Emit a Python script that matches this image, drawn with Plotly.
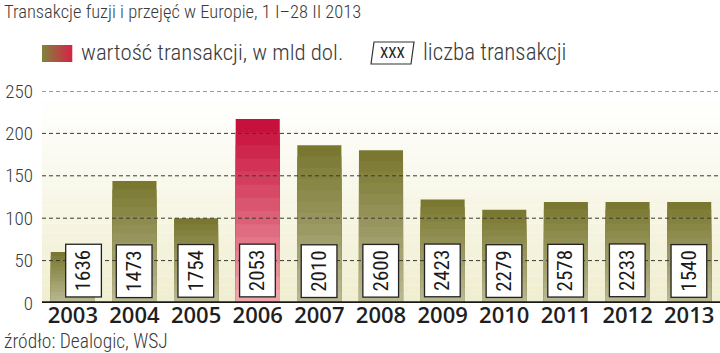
import plotly.graph_objects as go

years = ["2003", "2004", "2005", "2006", "2007", "2008", "2009", "2010", "2011", "2012", "2013"]
values = [60, 144, 100, 217, 186, 180, 122, 110, 119, 119, 119]
counts = ["1636", "1473", "1754", "2053", "2010", "2600", "2423", "2279", "2578", "2233", "1540"]
highlight = "2006"
yticks = [0, 50, 100, 150, 200, 250]

W, H = 720, 353
ML, MR, MT, MB = 42, 0, 91, 50
PW, PH = W - ML - MR, H - MT - MB

def px(x):
    return (x - ML) / PW

def py(y):
    return (H - MB - y) / PH

def lerp(c1, c2, t):
    return "rgb(%d,%d,%d)" % tuple(round(a + (b - a) * t) for a, b in zip(c1, c2))

OLIVE_TOP, OLIVE_BOT = (122, 120, 48), (185, 183, 145)
RED_TOP, RED_BOT = (200, 16, 60), (238, 165, 170)

fig = go.Figure()
N = 14
xs = list(range(len(years)))
for k in range(N):
    t = k / (N - 1)
    frac = 1 - k / N
    cols = [lerp(RED_TOP, RED_BOT, t) if yr == highlight else lerp(OLIVE_TOP, OLIVE_BOT, t) for yr in years]
    fig.add_trace(go.Bar(x=xs, y=[v * frac for v in values], marker=dict(color=cols, line=dict(width=0)),
                         width=0.715, hoverinfo="skip", showlegend=False))

shapes = []
BG_TOP, BG_BOT = (255, 255, 255), (240, 238, 208)
NB = 24
for i in range(NB):
    shapes.append(dict(type="rect", xref="paper", yref="paper", x0=0, x1=1, y0=i / NB, y1=(i + 1) / NB,
                       fillcolor=lerp(BG_BOT, BG_TOP, i / (NB - 1)), line=dict(width=0), layer="below"))
for v in yticks[1:]:
    shapes.append(dict(type="line", xref="paper", yref="y", x0=0, x1=1, y0=v, y1=v,
                       line=dict(color="#3a3a30", width=1, dash="4px,3px"), layer="above"))
shapes.append(dict(type="line", xref="paper", yref="y", x0=0, x1=1, y0=0, y1=0,
                   line=dict(color="#1a1a1a", width=3.5), layer="above"))
NS = 10
for i in range(NS):
    x0 = 42 + 30 * i / NS
    x1 = 42 + 30 * (i + 1) / NS
    shapes.append(dict(type="rect", xref="paper", yref="paper", x0=px(x0), x1=px(x1 + 0.3), y0=py(62), y1=py(45),
                       fillcolor=lerp((130, 128, 60), (210, 40, 70), i / (NS - 1)), line=dict(width=0)))
shapes.append(dict(type="path", xref="paper", yref="paper",
                   path="M %f,%f L %f,%f L %f,%f L %f,%f Z" % (px(371), py(64), px(374), py(42), px(414), py(42), px(411), py(64)),
                   fillcolor="white", line=dict(color="#333", width=1.2)))

annotations = []
FONT = "Roboto Condensed, DejaVu Sans Condensed, sans-serif"
TXT = "#3a3a3a"
annotations.append(dict(text="Transakcje fuzji i przejęć w Europie, 1 I–28 II 2013", xref="paper", yref="paper",
                        x=px(2), y=py(12), xanchor="left", yanchor="middle", showarrow=False,
                        font=dict(family=FONT, size=18.5, color=TXT, weight=300)))
annotations.append(dict(text="wartość transakcji, w mld dol.", xref="paper", yref="paper",
                        x=px(79), y=py(53), xanchor="left", yanchor="middle", showarrow=False,
                        font=dict(family=FONT, size=22.8, color=TXT, weight=300)))
annotations.append(dict(text="XXX", xref="paper", yref="paper",
                        x=px(392.5), y=py(53), xanchor="center", yanchor="middle", showarrow=False,
                        font=dict(family=FONT, size=15, color="#222")))
annotations.append(dict(text="liczba transakcji", xref="paper", yref="paper",
                        x=px(421), y=py(53), xanchor="left", yanchor="middle", showarrow=False,
                        font=dict(family=FONT, size=23, color=TXT, weight=300)))
annotations.append(dict(text="źródło: Dealogic, WSJ", xref="paper", yref="paper",
                        x=px(2), y=py(341), xanchor="left", yanchor="middle", showarrow=False,
                        font=dict(family=FONT, size=19.5, color=TXT, weight=300)))
for i, c in enumerate(counts):
    annotations.append(dict(text=c, x=i, y=38, xref="x", yref="y", showarrow=False, textangle=-90,
                            xshift=11 if i == 0 else 0,
                            font=dict(family=FONT, size=21, color="#1a1a1a"),
                            bgcolor="white", bordercolor="#222", borderwidth=1.3, borderpad=5))

fig.update_layout(
    width=W, height=H, margin=dict(l=ML, r=MR, t=MT, b=MB),
    barmode="overlay", bargap=0.29,
    paper_bgcolor="white", plot_bgcolor="rgba(0,0,0,0)",
    shapes=shapes, annotations=annotations, showlegend=False,
    xaxis=dict(range=[-0.5, 10.5], tickvals=xs, ticktext=years, showgrid=False, zeroline=False, showline=False, ticks="",
               tickfont=dict(family="Open Sans, sans-serif", size=22, color="#1f1f1f", weight=600), ticklabelstandoff=-3),
    yaxis=dict(range=[0, 250], tickvals=yticks, showgrid=False, zeroline=False, showline=False, ticks="",
               tickfont=dict(family=FONT, size=19, color=TXT, weight=300), ticklabelstandoff=8),
)
fig.write_html("out.html")
